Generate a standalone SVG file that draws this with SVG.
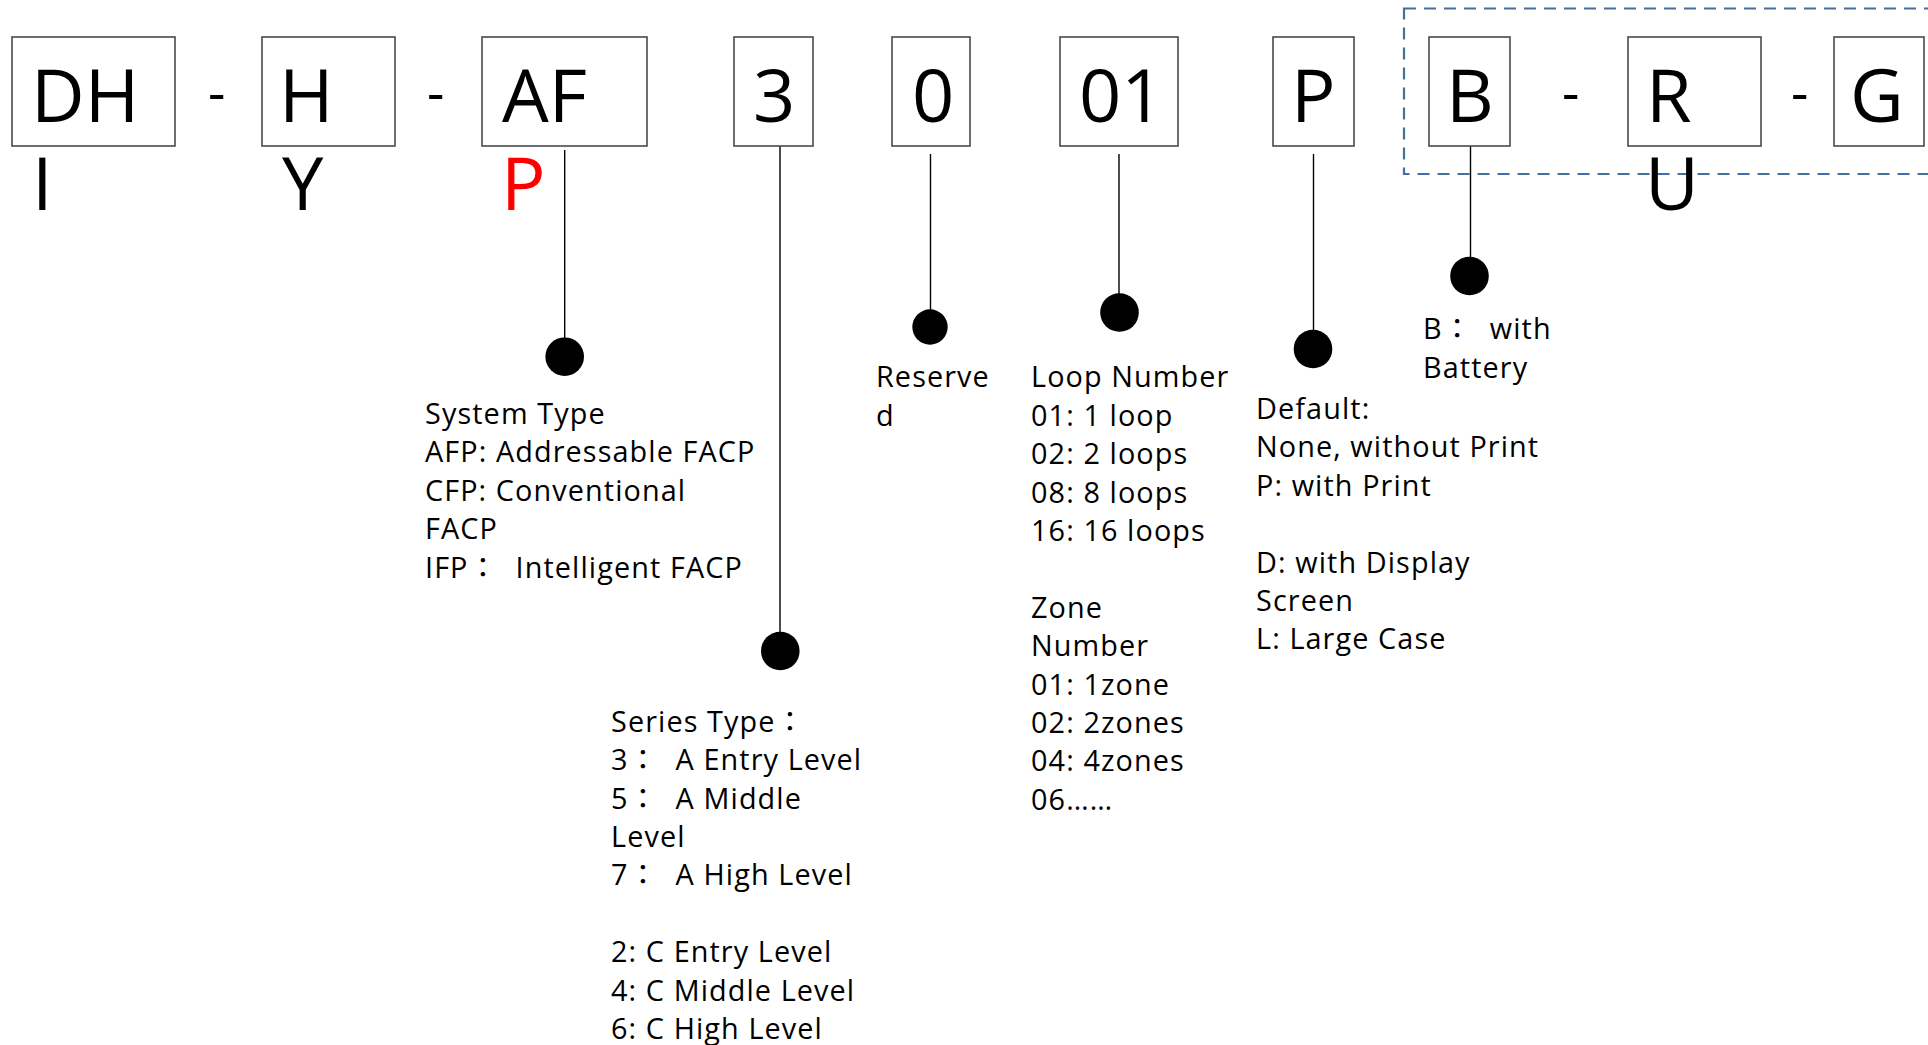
<svg xmlns="http://www.w3.org/2000/svg" width="1928" height="1045" viewBox="0 0 1928 1045">
<style>
.box{fill:#fff;stroke:#4a4a4a;stroke-width:1.6}
.big{font-family:"Open Sans","Noto Sans","Liberation Sans",sans-serif;font-size:74px;fill:#000}
.dash{font-family:"Open Sans","Noto Sans","Liberation Sans",sans-serif;font-size:54px;fill:#000}
.red{fill:#ff0000}
.t{font-family:"Open Sans","Noto Sans CJK JP",sans-serif;font-size:28.8px;letter-spacing:1.1px;fill:#000}
.ln{stroke:#000;stroke-width:1.4;fill:none}
.dot{fill:#000}
.grp{fill:none;stroke:#41719c;stroke-width:2.2;stroke-dasharray:12 8}
</style>
<rect width="1928" height="1045" fill="#fff"/>
<rect class="grp" x="1404" y="8.5" width="560" height="165.5"/>
<g id="connectors">
<line class="ln" x1="564.7" y1="150" x2="564.7" y2="340"/>
<line class="ln" x1="780" y1="146" x2="780" y2="634"/>
<line class="ln" x1="930.5" y1="154" x2="930.5" y2="312"/>
<line class="ln" x1="1119" y1="154" x2="1119" y2="296"/>
<line class="ln" x1="1313.5" y1="154" x2="1313.5" y2="332"/>
<line class="ln" x1="1470.5" y1="146" x2="1470.5" y2="260"/>
<circle class="dot" cx="564.7" cy="356.7" r="19.3"/>
<circle class="dot" cx="780.3" cy="651" r="19.3"/>
<circle class="dot" cx="930" cy="327" r="17.7"/>
<circle class="dot" cx="1119.5" cy="312.5" r="19.3"/>
<circle class="dot" cx="1313" cy="349" r="19.3"/>
<circle class="dot" cx="1469.5" cy="276" r="19.3"/>
</g>
<g id="node-DH"><rect class="box" x="12" y="37" width="163" height="109"/><text class="big" x="31" y="122">DH</text><text class="big" x="32" y="210">I</text></g>
<text class="dash" x="208" y="111.6">-</text>
<g id="node-H"><rect class="box" x="262" y="37" width="133" height="109"/><text class="big" x="279" y="122">H</text><text class="big" x="282" y="210">Y</text></g>
<text class="dash" x="427" y="111.6">-</text>
<g id="node-AF"><rect class="box" x="482" y="37" width="165" height="109"/><text class="big" x="502" y="122">AF</text><text class="big red" x="501" y="210">P</text></g>
<g id="node-3"><rect class="box" x="734" y="37" width="79" height="109"/><text class="big" x="753" y="122">3</text></g>
<g id="node-0"><rect class="box" x="892" y="37" width="78" height="109"/><text class="big" x="912" y="122">0</text></g>
<g id="node-01"><rect class="box" x="1060" y="37" width="118" height="109"/><text class="big" x="1079" y="122">01</text></g>
<g id="node-P"><rect class="box" x="1273" y="37" width="81" height="109"/><text class="big" x="1291" y="122">P</text></g>
<g id="node-B"><rect class="box" x="1429" y="37" width="81" height="109"/><text class="big" x="1446" y="122">B</text></g>
<text class="dash" x="1562" y="111.6">-</text>
<g id="node-R"><rect class="box" x="1628" y="37" width="133" height="109"/><text class="big" x="1646" y="122">R</text><text class="big" x="1645" y="210">U</text></g>
<text class="dash" x="1791" y="111.6">-</text>
<g id="node-G"><rect class="box" x="1834" y="37" width="90" height="109"/><text class="big" x="1850" y="122">G</text></g>
<g id="desc-system"><text class="t" xml:space="preserve"><tspan x="425" y="424">System Type</tspan><tspan x="425" y="462.4">AFP: Addressable FACP</tspan><tspan x="425" y="500.8">CFP: Conventional</tspan><tspan x="425" y="539.2">FACP</tspan><tspan x="425" y="577.6">IFP：  Intelligent FACP</tspan></text></g>
<g id="desc-series"><text class="t" xml:space="preserve"><tspan x="611" y="731.7">Series Type：</tspan><tspan x="611" y="770.1">3：  A Entry Level</tspan><tspan x="611" y="808.5">5：  A Middle</tspan><tspan x="611" y="846.9">Level</tspan><tspan x="611" y="885.3">7：  A High Level</tspan><tspan x="611" y="962.1">2: C Entry Level</tspan><tspan x="611" y="1000.5">4: C Middle Level</tspan><tspan x="611" y="1038.9">6: C High Level</tspan></text></g>
<g id="desc-reserved"><text class="t"><tspan x="876" y="387.3">Reserve</tspan><tspan x="876" y="425.7">d</tspan></text></g>
<g id="desc-loop"><text class="t"><tspan x="1031" y="387.3">Loop Number</tspan><tspan x="1031" y="425.7">01: 1 loop</tspan><tspan x="1031" y="464.1">02: 2 loops</tspan><tspan x="1031" y="502.5">08: 8 loops</tspan><tspan x="1031" y="540.9">16: 16 loops</tspan><tspan x="1031" y="617.7">Zone</tspan><tspan x="1031" y="656.1">Number</tspan><tspan x="1031" y="694.5">01: 1zone</tspan><tspan x="1031" y="732.9">02: 2zones</tspan><tspan x="1031" y="771.3">04: 4zones</tspan><tspan x="1031" y="809.7">06……</tspan></text></g>
<g id="desc-default"><text class="t"><tspan x="1256" y="419">Default:</tspan><tspan x="1256" y="457.4">None, without Print</tspan><tspan x="1256" y="495.8">P: with Print</tspan><tspan x="1256" y="572.6">D: with Display</tspan><tspan x="1256" y="611">Screen</tspan><tspan x="1256" y="649.4">L: Large Case</tspan></text></g>
<g id="desc-battery"><text class="t" xml:space="preserve"><tspan x="1423" y="339.3">B：  with</tspan><tspan x="1423" y="377.7">Battery</tspan></text></g>
</svg>
